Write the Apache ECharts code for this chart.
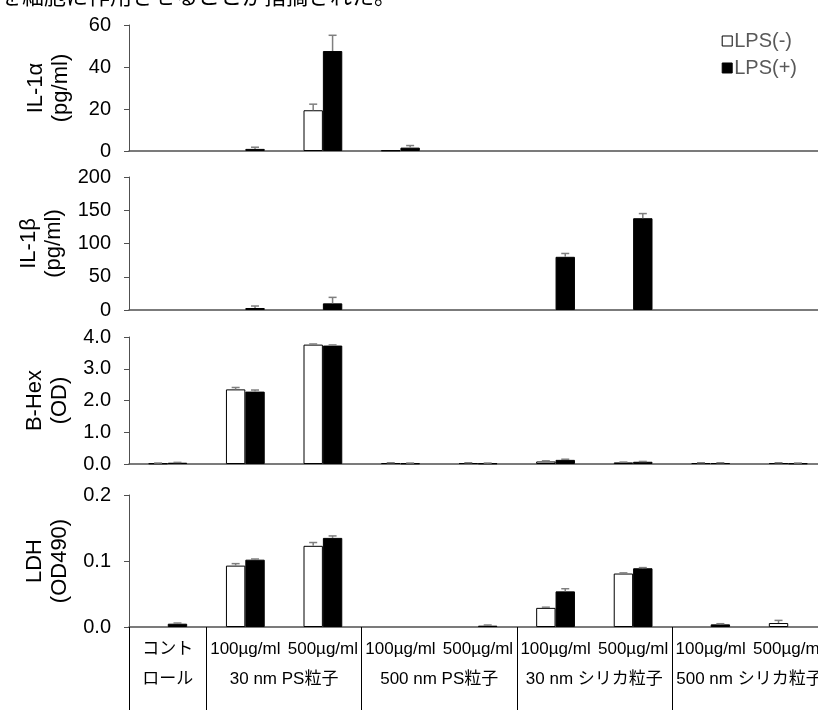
<!DOCTYPE html>
<html><head><meta charset="utf-8">
<script src="https://cdn.jsdelivr.net/npm/echarts@6/dist/echarts.min.js"></script>
<style>html,body{margin:0;padding:0;background:#fff}#c{width:818px;height:710px}</style>
</head><body><div id="c"></div>
<script>
// ---- data ----
const categories = ['コント','100µg/ml','500µg/ml','100µg/ml','500µg/ml','100µg/ml','500µg/ml','100µg/ml','500µg/ml'];
const groupLabels = ['ロール','30 nm PS粒子','500 nm PS粒子','30 nm シリカ粒子','500 nm シリカ粒子'];
const groupCenters = [0.5, 2, 4, 6, 8];
const groupStarts = [0, 1, 3, 5, 7];
const seriesNames = ['LPS(-)', 'LPS(+)'];

const il1aNeg    = [0, 0, 19.4, 0.3, 0, 0, 0, 0, 0];
const il1aNegErr = [0, 0, 2.9, 0, 0, 0, 0, 0, 0];
const il1aPos    = [0, 1.0, 47.6, 1.6, 0, 0, 0, 0, 0];
const il1aPosErr = [0, 0.8, 7.5, 1.0, 0, 0, 0, 0, 0];

const il1bNeg    = [0, 0, 0, 0, 0, 0, 0, 0, 0];
const il1bNegErr = [0, 0, 0, 0, 0, 0, 0, 0, 0];
const il1bPos    = [0, 3, 10, 0, 0, 80, 138, 0, 0];
const il1bPosErr = [0, 3, 9, 0, 0, 5, 7, 0, 0];

const bhexNeg    = [0.02, 2.35, 3.76, 0.03, 0.03, 0.08, 0.05, 0.03, 0.03];
const bhexNegErr = [0.01, 0.06, 0.02, 0.01, 0.01, 0.02, 0.01, 0.01, 0.01];
const bhexPos    = [0.04, 2.28, 3.73, 0.02, 0.02, 0.13, 0.07, 0.03, 0.02];
const bhexPosErr = [0.01, 0.05, 0.02, 0.01, 0.01, 0.02, 0.01, 0.01, 0.01];

const ldhNeg    = [0, 0.093, 0.123, 0, 0, 0.029, 0.081, 0, 0.006];
const ldhNegErr = [0, 0.003, 0.005, 0, 0, 0.001, 0.001, 0, 0.004];
const ldhPos    = [0.005, 0.102, 0.135, 0, 0.002, 0.054, 0.089, 0.004, 0];
const ldhPosErr = [0.001, 0.001, 0.003, 0, 0.001, 0.004, 0.001, 0.001, 0];

const panelNames = ['IL-1α\n(pg/ml)', 'IL-1β\n(pg/ml)', 'B-Hex\n(OD)', 'LDH\n(OD490)'];
const panelMax = [60, 200, 4, 0.2];
const panelInterval = [20, 50, 1, 0.1];
const panelDecimals = [0, 0, 1, 1];
const panelData = [
  [il1aNeg, il1aNegErr, il1aPos, il1aPosErr],
  [il1bNeg, il1bNegErr, il1bPos, il1bPosErr],
  [bhexNeg, bhexNegErr, bhexPos, bhexPosErr],
  [ldhNeg, ldhNegErr, ldhPos, ldhPosErr]
];

// ---- layout ----
const gridTops = [25, 177, 337, 495];
const gridHeights = [126, 133, 127, 132];
const FONT = '"Liberation Sans", Arial, "Noto Sans CJK JP", sans-serif';
const AXIS_COLOR = '#505050';

const grids = gridTops.map((t, i) => ({ left: 129, width: 698, top: t, height: gridHeights[i], outerBoundsMode: 'none', containLabel: false }));

const xAxes = grids.map((g, i) => ({
  type: 'category', gridIndex: i, data: categories, position: 'bottom',
  axisLine: { lineStyle: { color: AXIS_COLOR, width: 1.5 } },
  axisTick: i === 3 ? {
    show: true, length: 83, inside: false,
    interval: (idx) => groupStarts.includes(idx),
    lineStyle: { color: '#000', width: 1 }
  } : { show: false },
  axisLabel: i === 3 ? {
    show: true, interval: 0, margin: 14, fontSize: 17, color: '#000', fontFamily: FONT
  } : { show: false },
  splitLine: { show: false }
}));
xAxes.push({
  type: 'value', gridIndex: 3, position: 'bottom', min: 0, max: 9, interval: 0.5,
  axisLine: { show: false }, axisTick: { show: false }, splitLine: { show: false },
  axisLabel: {
    margin: 44, fontSize: 17, color: '#000', fontFamily: FONT,
    showMinLabel: true, showMaxLabel: true,
    formatter: (v) => { const k = groupCenters.indexOf(v); return k >= 0 ? groupLabels[k] : ''; }
  }
});

const yAxes = grids.map((g, i) => ({
  type: 'value', gridIndex: i, min: 0, max: panelMax[i], interval: panelInterval[i],
  name: panelNames[i], nameLocation: 'middle', nameRotate: 90, nameGap: 56,
  nameTextStyle: { fontSize: 22, lineHeight: 25, color: '#000', fontFamily: FONT },
  axisLine: { show: true, lineStyle: { color: AXIS_COLOR, width: 1 } },
  axisTick: { show: true, length: 5, inside: false, lineStyle: { color: AXIS_COLOR } },
  splitLine: { show: false },
  axisLabel: {
    fontSize: 20, color: '#000', fontFamily: FONT, margin: 18,
    formatter: (v) => v.toFixed(panelDecimals[i])
  }
}));

function errSeries(panel, vals, errs, side) {
  return {
    type: 'custom', name: 'err' + panel + side, xAxisIndex: panel, yAxisIndex: panel, z: 5,
    data: vals.map((v, k) => [k, v, errs[k]]),
    encode: { x: 0, y: 1 },
    renderItem: (params, api) => {
      const e = api.value(2);
      if (!e) return null;
      const k = api.value(0), v = api.value(1);
      const band = api.size([1, 0])[0];
      const base = api.coord([k, v]);
      const top = api.coord([k, v + e]);
      const x = base[0] + side * band / 8;
      const cap = 4;
      const st = { stroke: '#7f7f7f', lineWidth: 1.5 };
      return { type: 'group', children: [
        { type: 'line', shape: { x1: x, y1: base[1], x2: x, y2: top[1] }, style: st },
        { type: 'line', shape: { x1: x - cap, y1: top[1], x2: x + cap, y2: top[1] }, style: st }
      ]};
    }
  };
}

const nz = (arr) => arr.map(v => (v === 0 ? '-' : v));

const series = [];
panelData.forEach((d, i) => {
  series.push({
    type: 'bar', name: seriesNames[0], xAxisIndex: i, yAxisIndex: i, data: nz(d[0]),
    barWidth: '25%', barGap: '0%',
    itemStyle: { color: '#fff', borderColor: '#000', borderWidth: 1 }
  });
  series.push({
    type: 'bar', name: seriesNames[1], xAxisIndex: i, yAxisIndex: i, data: nz(d[2]),
    barWidth: '25%', barGap: '0%',
    itemStyle: { color: '#000', borderColor: '#000', borderWidth: 1 }
  });
  series.push(errSeries(i, d[0], d[1], -1));
  series.push(errSeries(i, d[2], d[3], 1));
});

const chart = echarts.init(document.getElementById('c'), null, { renderer: 'canvas' });
chart.setOption({
  animation: false,
  backgroundColor: '#fff',
  graphic: [{
    type: 'text', left: 0, top: -15,
    style: { text: 'を細胞に作用させることが指摘された。', font: '22px "Noto Sans CJK JP"', fill: '#000' }
  }],
  legend: {
    data: seriesNames, orient: 'vertical', right: 16, top: 26, itemGap: 7,
    itemWidth: 10, itemHeight: 10, icon: 'rect', itemStyle: {borderWidth: 1},
    textStyle: { fontSize: 20, color: '#595959', fontFamily: FONT, padding: [0, 0, 0, -3] }
  },
  grid: grids,
  xAxis: xAxes,
  yAxis: yAxes,
  series: series
});
</script>
</body></html>
